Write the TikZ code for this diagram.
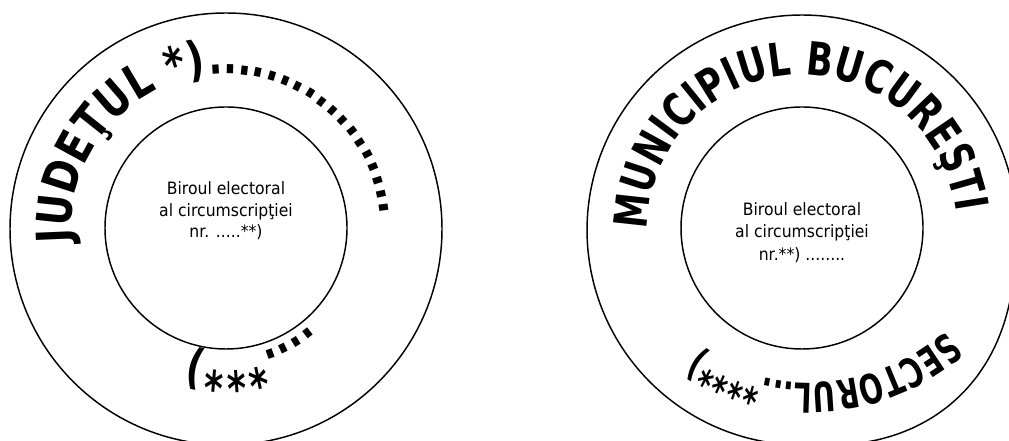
\documentclass[tikz,border=0pt]{standalone}
\usepackage{fontspec}
\setmainfont{DejaVu Sans}
\newfontfamily\stampW[FakeStretch=0.8]{DejaVu Sans}
\newfontfamily\stampN[FakeStretch=0.75]{DejaVu Sans}
\newfontfamily\stampS[FakeStretch=0.68]{DejaVu Sans}
\newfontfamily\innerfont[FakeStretch=0.92]{DejaVu Sans}
\usetikzlibrary{decorations.text}
\begin{document}
\begin{tikzpicture}[x=0.75pt,y=0.75pt,
  ring/.style={line width=1.1pt, draw=black},
  innertext/.style={font=\innerfont\fontsize{12.75}{15}\selectfont, anchor=base, inner sep=0pt},
  declare function={
    bmp(\u,\w)=max(0,1-(\u/\w)*(\u/\w));
    outerR(\a)=215+14*bmp(\a-312,45)*bmp(\a-312,45);
  }]
\useasboundingbox (0,0) rectangle (1009,441);

% ---------- left stamp ----------
\begin{scope}[shift={(226,212)}]
  \draw[ring] (0,0) circle[radius=216];
  \draw[ring] (0,1) circle[radius=121];
  \path[decorate, decoration={text along path, text align=fit to path,
     text={|\stampW\bfseries\fontsize{36}{36}\selectfont|JUDEŢUL *)}}]
     (185:155) arc[start angle=185, end angle=97, radius=155];
  \path[decorate, decoration={text along path, text align=fit to path,
     text={|\stampN\bfseries\fontsize{36}{36}\selectfont|..................}}]
     (96:155) arc[start angle=96, end angle=6, radius=155];
  \path[decorate, decoration={text along path,
     text={|\stampN\bfseries\fontsize{36}{36}\selectfont|....***)}}]
     (-49:128) arc[start angle=-49, end angle=-140, radius=128];
\end{scope}
\node[innertext] (L1) at (226,246) {Biroul electoral};
\node[innertext] (L2) at (226,224.3) {al circumscripţiei};
\node[innertext] (L3) at (226,203.7) {nr. .....**)};

% ---------- right stamp ----------
\begin{scope}[shift={(802,211)}]
  \draw[ring] plot[smooth cycle, variable=\a, domain=0:355, samples=72] ({\a}:{outerR(\a)});
  \draw[ring] (0,2) circle[radius=121];
  \path[decorate, decoration={text along path, text align=fit to path,
     text={|\stampN\bfseries\fontsize{34.5}{34.5}\selectfont|MUNICIPIUL BUCUREŞTI}}]
     (180:155) arc[start angle=180, end angle=6.7, radius=155];
\end{scope}
\begin{scope}[shift={(810,261)}]
  \path[decorate, decoration={text along path,
     text={|\stampS\bfseries\fontsize{30.75}{30.75}\selectfont|SECTORUL...****)}}]
     (-48:203) arc[start angle=-48, end angle=-160, radius=203];
\end{scope}
\node[innertext] (R1) at (802,225.3) {Biroul electoral};
\node[innertext] (R2) at (802,203.7) {al circumscripţiei};
\node[innertext] (R3) at (802,180.3) {nr.**) ........};
\end{tikzpicture}
\end{document}
